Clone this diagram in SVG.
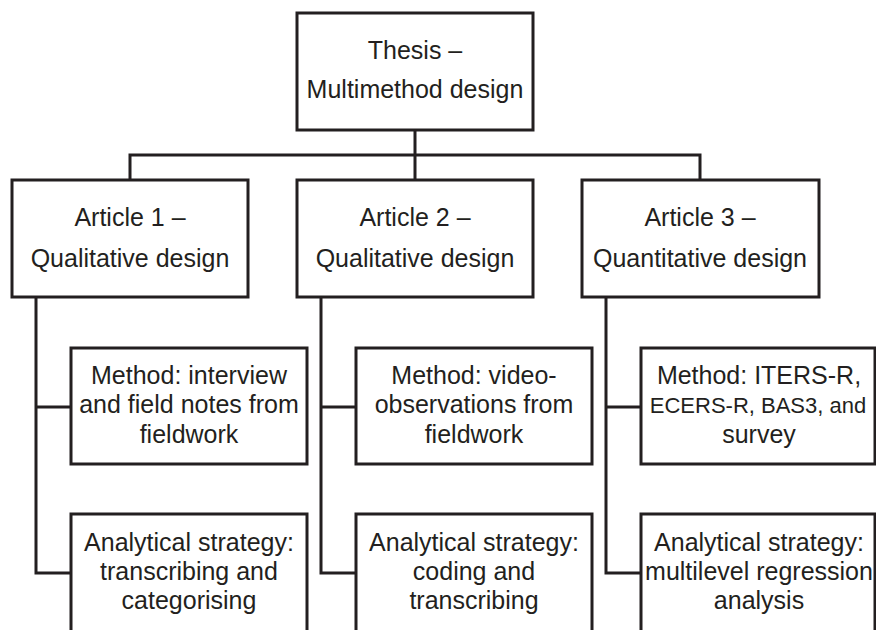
<svg xmlns="http://www.w3.org/2000/svg" width="876" height="630" viewBox="0 0 876 630">
<style>
.box{fill:#fff;stroke:#231f20;stroke-width:3}
.ln{fill:none;stroke:#231f20;stroke-width:3}
text{font-family:"Liberation Sans",Arial,sans-serif;font-size:25px;fill:#231f20;text-anchor:middle}
</style>
<rect width="876" height="630" fill="#fff"/>
<g id="connectors">
<path class="ln" d="M415,130 V180 M130,180 V155 H700 V180"/>
<path class="ln" d="M36,297 V573 H71 M36,407 H71"/>
<path class="ln" d="M321,297 V573 H356 M321,407 H356"/>
<path class="ln" d="M606,297 V573 H641 M606,407 H641"/>
</g>
<g id="thesis">
<rect class="box" x="297" y="13" width="236" height="117"/>
<text x="415" y="59">Thesis –</text>
<text x="415" y="98">Multimethod design</text>
</g>
<g id="article1">
<rect class="box" x="12" y="180" width="236" height="117"/>
<text x="130" y="226">Article 1 –</text>
<text x="130" y="267">Qualitative design</text>
</g>
<g id="article2">
<rect class="box" x="297" y="180" width="236" height="117"/>
<text x="415" y="226">Article 2 –</text>
<text x="415" y="267">Qualitative design</text>
</g>
<g id="article3">
<rect class="box" x="582" y="180" width="237" height="117"/>
<text x="700" y="226">Article 3 –</text>
<text x="700" y="267">Quantitative design</text>
</g>
<g id="method1">
<rect class="box" x="71" y="348" width="236" height="116"/>
<text x="189" y="384">Method: interview</text>
<text x="189" y="413">and field notes from</text>
<text x="189" y="443">fieldwork</text>
</g>
<g id="method2">
<rect class="box" x="356" y="348" width="236" height="116"/>
<text x="474" y="384">Method: video-</text>
<text x="474" y="413">observations from</text>
<text x="474" y="443">fieldwork</text>
</g>
<g id="method3">
<rect class="box" x="641" y="348" width="234" height="116"/>
<text x="759" y="384">Method: ITERS-R,</text>
<text x="758" y="413" style="font-size:22px">ECERS-R, BAS3, and</text>
<text x="759" y="443">survey</text>
</g>
<g id="analysis1">
<rect class="box" x="71" y="514" width="236" height="130"/>
<text x="189" y="551">Analytical strategy:</text>
<text x="189" y="580">transcribing and</text>
<text x="189" y="609">categorising</text>
</g>
<g id="analysis2">
<rect class="box" x="356" y="514" width="236" height="130"/>
<text x="474" y="551">Analytical strategy:</text>
<text x="474" y="580">coding and</text>
<text x="474" y="609">transcribing</text>
</g>
<g id="analysis3">
<rect class="box" x="641" y="514" width="234" height="130"/>
<text x="759" y="551">Analytical strategy:</text>
<text x="759" y="580">multilevel regression</text>
<text x="759" y="609">analysis</text>
</g>
</svg>
